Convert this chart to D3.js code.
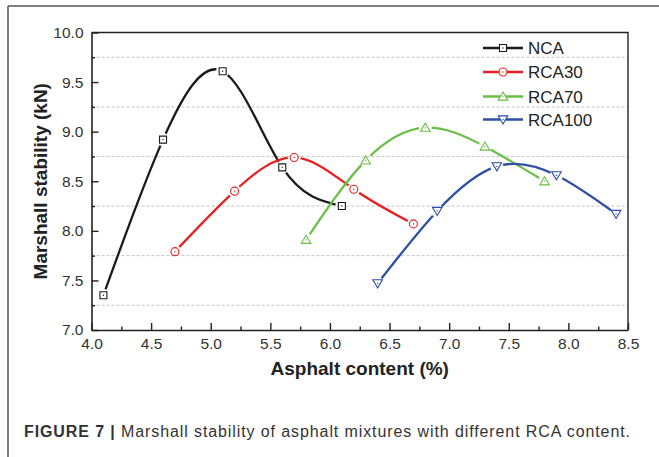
<!DOCTYPE html>
<html>
<head>
<meta charset="utf-8">
<script src="https://cdn.jsdelivr.net/npm/d3@7"></script>
<style>
  body { margin: 0; background: #fff; }
  svg { display: block; font-family: "Liberation Sans", Arial, sans-serif; }
</style>
</head>
<body>
<figure id="chart" style="margin:0"></figure>
<script>
// data
const seriesNames = ['NCA', 'RCA30', 'RCA70', 'RCA100'];
const seriesColors = ['#1a1a1a', '#e8201f', '#6abf45', '#2e4fa3'];
const seriesShapes = ['square', 'circle', 'triangleUp', 'triangleDown'];
const xNCA = [4.1, 4.6, 5.1, 5.6, 6.1];
const yNCA = [7.35, 8.92, 9.61, 8.64, 8.25];
const xRCA30 = [4.7, 5.2, 5.7, 6.2, 6.7];
const yRCA30 = [7.79, 8.40, 8.74, 8.42, 8.07];
const xRCA70 = [5.8, 6.3, 6.8, 7.3, 7.8];
const yRCA70 = [7.91, 8.71, 9.04, 8.85, 8.50];
const xRCA100 = [6.4, 6.9, 7.4, 7.9, 8.4];
const yRCA100 = [7.47, 8.20, 8.65, 8.56, 8.17];
const xMajorTicks = [4.0, 4.5, 5.0, 5.5, 6.0, 6.5, 7.0, 7.5, 8.0, 8.5];
const yMajorTicks = [7.0, 7.5, 8.0, 8.5, 9.0, 9.5, 10.0];
const yGridLines = [7.25, 7.75, 8.25, 8.75, 9.25, 9.75];

const xs = [xNCA, xRCA30, xRCA70, xRCA100];
const ys = [yNCA, yRCA30, yRCA70, yRCA100];
const series = seriesNames.map((name, i) => ({
  name: name,
  color: seriesColors[i],
  shape: seriesShapes[i],
  points: xs[i].map((x, j) => ({ x: x, y: ys[i][j] }))
}));

const W = 659, H = 457;
const margin = { left: 91.5, top: 32.5, right: 31, bottom: 127 };
const width = W - margin.left - margin.right;
const height = H - margin.top - margin.bottom;

const svg = d3.select('#chart').append('svg')
  .attr('width', W)
  .attr('height', H);

// outer panel frame (top + left only visible)
svg.append('line').attr('x1', 8).attr('x2', W).attr('y1', 6).attr('y2', 6)
  .attr('stroke', '#555').attr('stroke-width', 1.5);
svg.append('line').attr('x1', 8).attr('x2', 8).attr('y1', 6).attr('y2', H)
  .attr('stroke', '#555').attr('stroke-width', 1.5);

const g = svg.append('g')
  .attr('transform', 'translate(' + margin.left + ',' + margin.top + ')');

const xScale = d3.scaleLinear().domain([4.0, 8.5]).range([0, width]);
const yScale = d3.scaleLinear().domain([7.0, 10.0]).range([height, 0]);

// dashed grid at the minor y positions
g.append('g').selectAll('line')
  .data(yGridLines)
  .join('line')
  .attr('x1', 0).attr('x2', width)
  .attr('y1', d => yScale(d)).attr('y2', d => yScale(d))
  .attr('stroke', '#c4c4c4')
  .attr('stroke-width', 1)
  .attr('stroke-dasharray', '3,2');

// frame top/right
g.append('path')
  .attr('d', 'M0,0H' + width + 'V' + height)
  .attr('fill', 'none').attr('stroke', '#222').attr('stroke-width', 1.4);

// minor ticks (no labels)
const xMinor = xMajorTicks.slice(0, -1).map(d => d + 0.25);
const yMinor = yMajorTicks.slice(0, -1).map(d => d + 0.25);
g.append('g')
  .attr('transform', 'translate(0,' + height + ')')
  .call(d3.axisBottom(xScale).tickValues(xMinor).tickSize(-3.5).tickFormat(''))
  .call(a => a.select('.domain').remove());
g.append('g')
  .call(d3.axisLeft(yScale).tickValues(yMinor).tickSize(-3.5).tickFormat(''))
  .call(a => a.select('.domain').remove());

// major axes
const xAxis = g.append('g')
  .attr('transform', 'translate(0,' + height + ')')
  .call(d3.axisBottom(xScale).tickValues(xMajorTicks).tickSize(-7).tickSizeOuter(0)
    .tickPadding(8).tickFormat(d3.format('.1f')));
const yAxis = g.append('g')
  .call(d3.axisLeft(yScale).tickValues(yMajorTicks).tickSize(-7).tickSizeOuter(0)
    .tickPadding(8).tickFormat(d3.format('.1f')));

g.selectAll('.tick line').attr('stroke', '#222').attr('stroke-width', 1.4);
[xAxis, yAxis].forEach(a => {
  a.select('.domain').attr('stroke', '#222').attr('stroke-width', 1.6);
  a.selectAll('text')
    .attr('font-size', 15.5)
    .attr('fill', '#333')
    .attr('font-family', '"Liberation Sans", Arial, sans-serif');
});

// axis titles
g.append('text')
  .attr('x', width / 2)
  .attr('y', height + 45)
  .attr('text-anchor', 'middle')
  .attr('font-size', 19)
  .attr('font-weight', 'bold')
  .attr('fill', '#222')
  .text('Asphalt content (%)');
g.append('text')
  .attr('transform', 'translate(' + (-45) + ',' + (height / 2) + ') rotate(-90)')
  .attr('text-anchor', 'middle')
  .attr('font-size', 19)
  .attr('font-weight', 'bold')
  .attr('fill', '#222')
  .text('Marshall stability (kN)');

// marker shapes, centered on 0,0
function markerPath(shape) {
  if (shape === 'square') return 'M-3.5,-3.5H3.5V3.5H-3.5Z';
  if (shape === 'circle') return 'M4,0A4,4 0 1,1 -4,0A4,4 0 1,1 4,0Z';
  if (shape === 'triangleUp') return 'M0,-4.5L4.8,3.6H-4.8Z';
  return 'M0,4.5L4.8,-3.6H-4.8Z';
}

const line = d3.line()
  .x(d => xScale(d.x))
  .y(d => yScale(d.y))
  .curve(d3.curveNatural);

const defs = svg.append('defs');

series.forEach((s, i) => {
  // mask that leaves a small gap round each marker
  const mask = defs.append('mask').attr('id', 'gap' + i)
    .attr('maskUnits', 'userSpaceOnUse')
    .attr('x', -margin.left).attr('y', -margin.top).attr('width', W).attr('height', H);
  mask.append('rect')
    .attr('x', -margin.left).attr('y', -margin.top).attr('width', W).attr('height', H)
    .attr('fill', '#fff');
  mask.selectAll('circle')
    .data(s.points)
    .join('circle')
    .attr('cx', d => xScale(d.x))
    .attr('cy', d => yScale(d.y))
    .attr('r', 6.5)
    .attr('fill', '#000');

  g.append('path')
    .datum(s.points)
    .attr('d', line)
    .attr('fill', 'none')
    .attr('stroke', s.color)
    .attr('stroke-width', 2.3)
    .attr('mask', 'url(#gap' + i + ')');

  const marks = g.append('g').selectAll('g')
    .data(s.points)
    .join('g')
    .attr('transform', d => 'translate(' + xScale(d.x) + ',' + yScale(d.y) + ')');
  marks.append('path')
    .attr('d', markerPath(s.shape))
    .attr('fill', '#fff')
    .attr('stroke', s.color)
    .attr('stroke-width', 1.1);
  marks.append('circle')
    .attr('r', 0.7)
    .attr('fill', s.color);
});

// legend
const legendRows = [48, 72, 96.5, 119.5];
const legend = svg.append('g');
series.forEach((s, i) => {
  const row = legend.append('g').attr('transform', 'translate(483,' + legendRows[i] + ')');
  row.append('line')
    .attr('x1', 0).attr('x2', 40).attr('y1', 0).attr('y2', 0)
    .attr('stroke', s.color).attr('stroke-width', 2.3);
  row.append('path')
    .attr('d', markerPath(s.shape))
    .attr('transform', 'translate(20,0)')
    .attr('fill', '#fff')
    .attr('stroke', s.color)
    .attr('stroke-width', 1.1);
  row.append('circle').attr('cx', 20).attr('r', 0.7).attr('fill', s.color);
  row.append('text')
    .attr('x', 45)
    .attr('y', 6)
    .attr('font-size', 17)
    .attr('fill', '#222')
    .text(s.name);
});

// caption
const caption = svg.append('text')
  .attr('x', 24)
  .attr('y', 437)
  .attr('font-size', 16)
  .attr('fill', '#333')
  .attr('textLength', 606)
  .attr('lengthAdjust', 'spacing');
caption.append('tspan').attr('font-weight', 'bold').text('FIGURE 7 | ');
caption.append('tspan').text('Marshall stability of asphalt mixtures with different RCA content.');
</script>
</body>
</html>
